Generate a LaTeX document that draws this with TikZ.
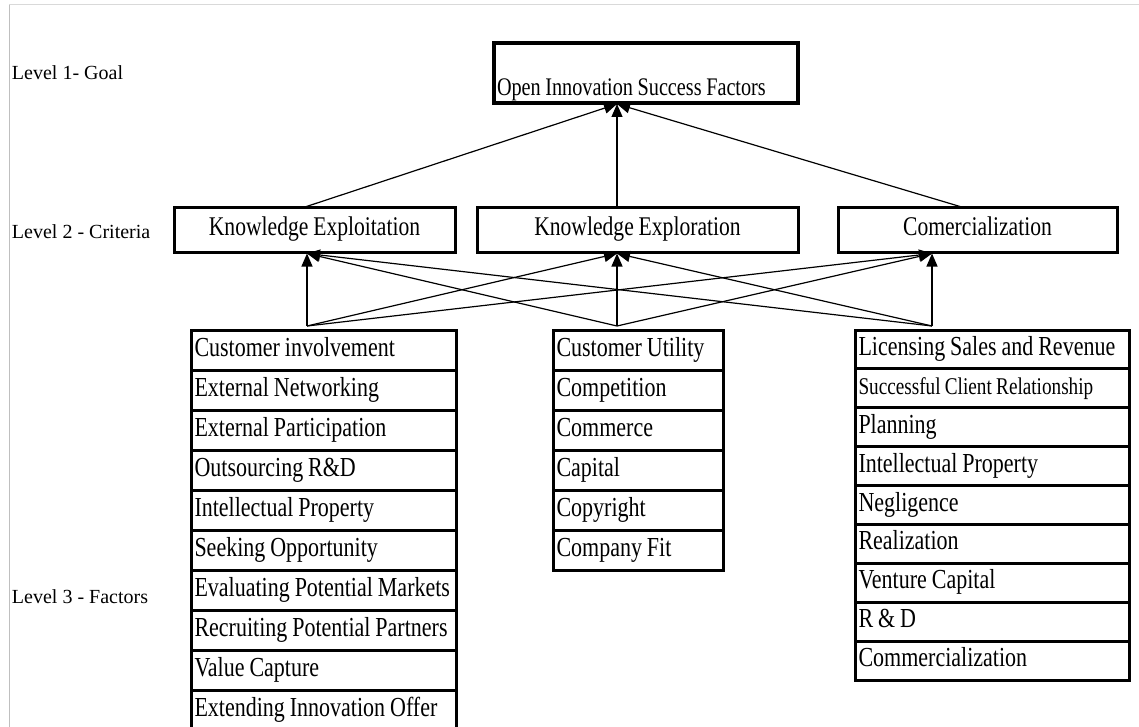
\documentclass[tikz,border=0pt]{standalone}
\usepackage{fontspec}
\setmainfont{Liberation Serif}
\newfontfamily\cond[FakeStretch=0.8,WordSpace=0.9]{Liberation Serif}
\usetikzlibrary{arrows.meta,calc}
\newcommand{\lbox}[2]{\makebox[#1][l]{#2}}
\begin{document}
\begin{tikzpicture}[x=1pt,y=-1pt,
  every node/.style={inner sep=0pt, outer sep=0pt},
  lvl/.style={anchor=west, font=\fontsize{20}{24}\selectfont},
  goalbox/.style={draw, line width=4.5pt, anchor=north west, minimum width=304pt, minimum height=60pt},
  critbox/.style={draw, line width=3pt, anchor=north west, minimum height=44pt, text height=18pt, text depth=6pt, font=\cond\fontsize{27}{30}\selectfont},
  item/.style={draw, line width=3pt, anchor=north west, inner xsep=3.5pt, text height=18pt, text depth=6pt, font=\cond\fontsize{27.5}{30}\selectfont},
  arr/.style={line width=1.2pt, -{Triangle[length=13pt,width=11pt]}},
  frame/.style={line width=1pt},
]
\useasboundingbox (0,0) rectangle (1139,727);
\clip (0,0) rectangle (1139,727);
\draw[frame, black!15] (9,5) -- (1139,5);
\draw[frame, black!25] (9,5) -- (9,727);

% level labels
\node[lvl] (lv1) at (12,73) {Level 1- Goal};
\node[lvl] (lv2) at (12,232) {Level 2 - Criteria};
\node[lvl] (lv3) at (12,597) {Level 3 - Factors};

% goal
\node[goalbox] (goal) at (494,43) {};
\node[anchor=base west, font=\cond\fontsize{25.3}{28}\selectfont] (goaltxt) at (497,96) {Open Innovation Success Factors};

% criteria
\node[critbox, minimum width=281pt] (kx) at (174,208) {Knowledge Exploitation};
\node[critbox, minimum width=321pt] (ke) at (477,208) {Knowledge Exploration};
\node[critbox, minimum width=279pt] (kc) at (838,208) {Comercialization};

% factor lists
\foreach \t [count=\i] in {Customer involvement, External Networking, External Participation, Outsourcing R\&D, Intellectual Property, Seeking Opportunity, Evaluating Potential Markets, Recruiting Potential Partners, Value Capture, Extending Innovation Offer}
  \node[item, minimum height=40pt] (l\i) at (191,{330+40*(\i-1)}) {\lbox{258pt}{\t}};

\foreach \t [count=\i] in {Customer Utility, Competition, Commerce, Capital, Copyright, Company Fit}
  \node[item, minimum height=40pt] (m\i) at (553,{330+40*(\i-1)}) {\lbox{163pt}{\t}};

\foreach \t [count=\i] in {Licensing Sales and Revenue, {\fontsize{24}{26}\selectfont Successful Client Relationship}, Planning, Intellectual Property, Negligence, Realization, Venture Capital, R \& D, Commercialization}
  \node[item, minimum height=38.9pt] (r\i) at (855,{330+38.9*(\i-1)}) {\lbox{267pt}{\t}};

% level 2 -> goal
\draw[arr] ([xshift=-12.5pt]kx.north) -- ([xshift=-29pt,yshift=-1pt]goal.south);
\draw[arr] ([xshift=-20.5pt]ke.north) -- ([xshift=-29pt,yshift=-1pt]goal.south);
\draw[arr] ([xshift=-12.5pt]kc.north) -- ([xshift=-29pt,yshift=-1pt]goal.south);

% level 3 -> level 2
\foreach \src/\dx in {l1/-16.5, m1/-21, r1/-60}{
  \draw[arr] ([xshift=\dx pt,yshift=4pt]\src.north) -- ([xshift=-7.5pt,yshift=-1.5pt]kx.south);
  \draw[arr] ([xshift=\dx pt,yshift=4pt]\src.north) -- ([xshift=-20.5pt,yshift=-1.5pt]ke.south);
  \draw[arr] ([xshift=\dx pt,yshift=4pt]\src.north) -- ([xshift=-45.5pt,yshift=-1.5pt]kc.south);
}
\end{tikzpicture}
\end{document}
